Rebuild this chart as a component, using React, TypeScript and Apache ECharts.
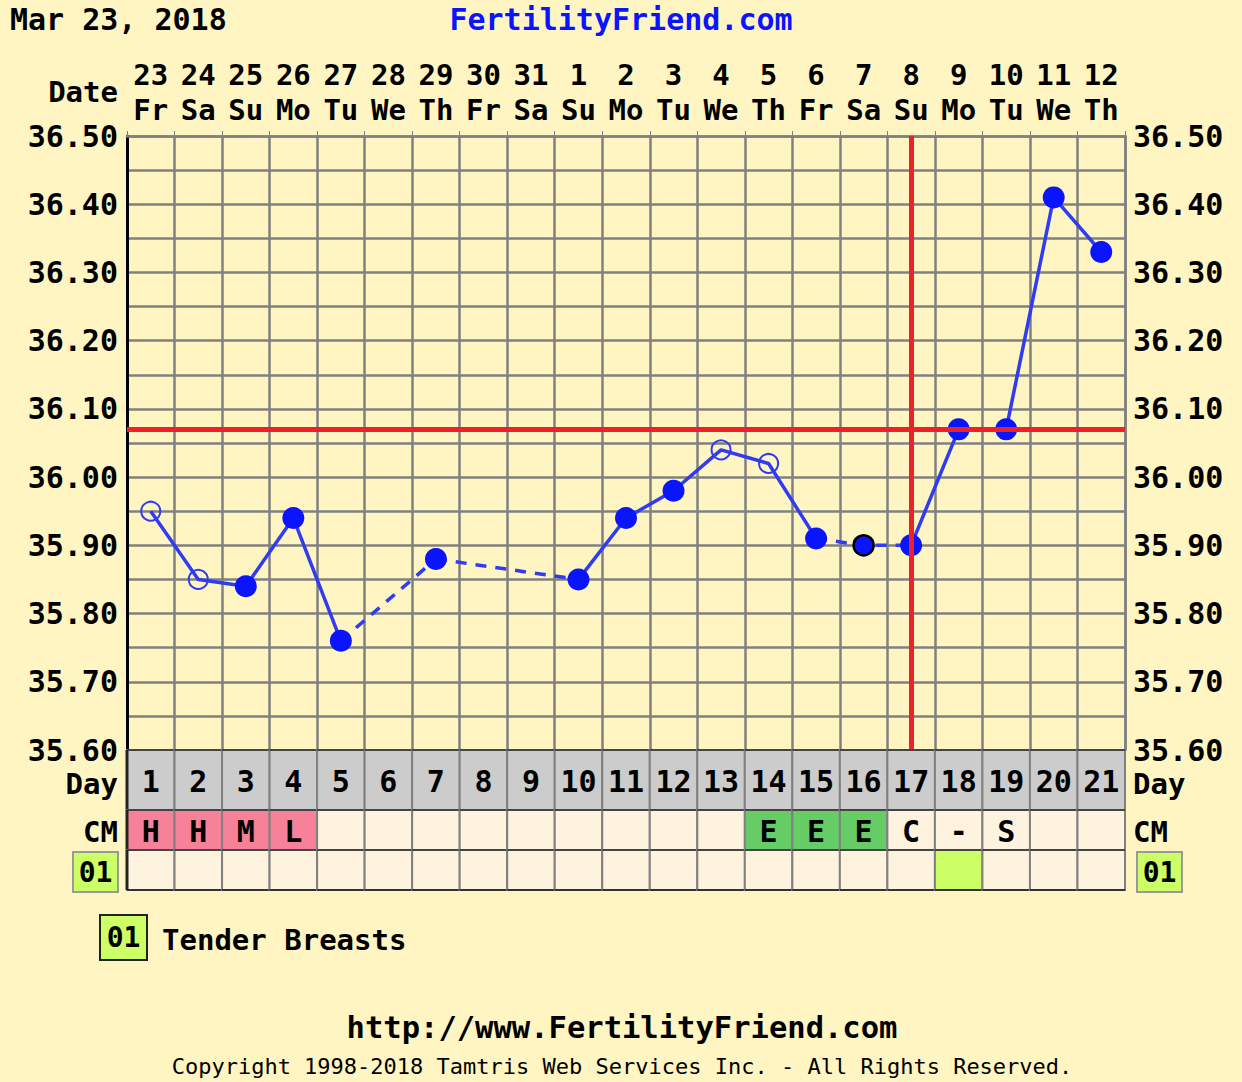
import React, { useEffect, useRef } from 'react';
import * as echarts from 'echarts';

// ---------- data ----------
const CHART_DATE = 'Mar 23, 2018';
const SITE_TITLE = 'FertilityFriend.com';
const SITE_URL = 'http://www.FertilityFriend.com';
const COPYRIGHT = 'Copyright 1998-2018 Tamtris Web Services Inc. - All Rights Reserved.';

const DATES = ['23', '24', '25', '26', '27', '28', '29', '30', '31', '1', '2', '3', '4', '5', '6', '7', '8', '9', '10', '11', '12'];
const WEEKDAYS = ['Fr', 'Sa', 'Su', 'Mo', 'Tu', 'We', 'Th', 'Fr', 'Sa', 'Su', 'Mo', 'Tu', 'We', 'Th', 'Fr', 'Sa', 'Su', 'Mo', 'Tu', 'We', 'Th'];
const CYCLE_DAYS = ['1', '2', '3', '4', '5', '6', '7', '8', '9', '10', '11', '12', '13', '14', '15', '16', '17', '18', '19', '20', '21'];

const TEMPS: (number | null)[] = [35.95, 35.85, 35.84, 35.94, 35.76, null, 35.88, null, null, 35.85, 35.94, 35.98, 36.04, 36.02, 35.91, 35.90, 35.90, 36.07, 36.07, 36.41, 36.33];
const MARKERS = ['open', 'open', 'filled', 'filled', 'filled', '', 'filled', '', '', 'filled', 'filled', 'filled', 'open', 'open', 'filled', 'outlined', 'filled', 'filled', 'filled', 'filled', 'filled'];
const SOLID_SEGMENTS = [[1, 5], [10, 15], [17, 21]];
const DASHED_SEGMENTS = [[5, 7], [7, 10], [15, 17]];
const COVERLINE = 36.07;
const OVULATION_DAY = 17;
const Y_MIN = 35.6;
const Y_MAX = 36.5;
const Y_STEP = 0.05;

const CM = ['H', 'H', 'M', 'L', '', '', '', '', '', '', '', '', '', 'E', 'E', 'E', 'C', '-', 'S', '', ''];
const SYMPTOMS = ['', '', '', '', '', '', '', '', '', '', '', '', '', '', '', '', '', '01', '', '', ''];
const SYMPTOM_CODE = '01';
const SYMPTOM_LABEL = 'Tender Breasts';

// ---------- styles ----------
const BG = '#fff5c2';
const CELL = '#fdf3df';
const DAY_ROW = '#cccccc';
const PINK = '#f78198';
const GREEN = '#66cc66';
const LIME = '#ccff66';
const BLUE_LINE = '#2f3cf2';
const BLUE_DOT = '#0a14ff';
const RED = '#ee2028';
const GRID = '#808080';
const FONT = '"DejaVu Sans Mono", monospace';

const W = 1242;
const H = 1082;
const PLOT_LEFT = 127;
const PLOT_RIGHT = 1125;
const PLOT_TOP = 136;
const PLOT_BOTTOM = 750;
const TABLE_BOTTOM = 890;
// row bands in table units (0..140) : Day, CM, symptom
const ROW_BANDS = [[80, 140], [40, 80], [0, 40]];

function cmColor(c: string) {
  if (c === 'H' || c === 'M' || c === 'L') return PINK;
  if (c === 'E') return GREEN;
  return CELL;
}

function fmtY(v: number) {
  const r = Math.round(v * 100);
  if (r % 10 !== 0) return '';
  return (r / 100).toFixed(2);
}

export default function App() {
  const ref = useRef<HTMLDivElement>(null);

  useEffect(() => {
    if (!ref.current) return;
    const chart = echarts.init(ref.current, undefined, { renderer: 'svg' });

    const pts = (a: number, b: number) => {
      const out: [number, number][] = [];
      for (let d = a; d <= b; d++) {
        const t = TEMPS[d - 1];
        if (t != null) out.push([d - 1, t]);
      }
      return out;
    };
    const markerPts = (kind: string) =>
      TEMPS.map((t, i) => (t != null && MARKERS[i] === kind ? [i, t] : null)).filter((p) => p) as [number, number][];

    const cells: { x: number; row: number; text: string; fill: string }[] = [];
    CYCLE_DAYS.forEach((d, i) => {
      cells.push({ x: i, row: 0, text: d, fill: DAY_ROW });
      cells.push({ x: i, row: 1, text: CM[i], fill: cmColor(CM[i]) });
      cells.push({ x: i, row: 2, text: '', fill: SYMPTOMS[i] ? LIME : CELL });
    });

    const lineSeries: any[] = [];
    SOLID_SEGMENTS.forEach(([a, b]) => {
      lineSeries.push({
        type: 'line', xAxisIndex: 0, yAxisIndex: 0, data: pts(a, b), symbol: 'none',
        lineStyle: { color: BLUE_LINE, width: 3.5 }, z: 3,
      });
    });
    DASHED_SEGMENTS.forEach(([a, b]) => {
      lineSeries.push({
        type: 'line', xAxisIndex: 0, yAxisIndex: 0, data: pts(a, b), symbol: 'none',
        lineStyle: { color: BLUE_LINE, width: 3.5, type: [11, 9] }, z: 3,
      });
    });

    const badge = (x: number, y: number, w: number, h: number, stroke: string, size: number) => [
      { type: 'rect', shape: { x, y, width: w, height: h }, style: { fill: LIME, stroke, lineWidth: 2 } },
      {
        type: 'text', x: x + w / 2, y: y + h / 2,
        style: { text: SYMPTOM_CODE, fill: '#000', font: `bold ${size}px ${FONT}`, textAlign: 'center', textVerticalAlign: 'middle', align: 'center', verticalAlign: 'middle' },
      },
    ];
    const txt = (text: string, x: number, y: number, size: number, align: string, color = '#000', weight = 'bold') => ({
      type: 'text', x, y,
      style: { text, fill: color, font: `${weight} ${size}px ${FONT}`, textAlign: align, textVerticalAlign: 'middle', align, verticalAlign: 'middle' },
    });

    const option: any = {
      animation: false,
      backgroundColor: BG,
      grid: [
        { left: PLOT_LEFT, right: W - PLOT_RIGHT, top: PLOT_TOP, height: PLOT_BOTTOM - PLOT_TOP, backgroundColor: BG },
        { left: PLOT_LEFT, right: W - PLOT_RIGHT, top: PLOT_BOTTOM, height: TABLE_BOTTOM - PLOT_BOTTOM },
      ],
      xAxis: [
        {
          type: 'category', gridIndex: 0, data: CYCLE_DAYS, boundaryGap: true, position: 'bottom',
          axisLine: { show: false }, axisTick: { show: false }, axisLabel: { show: false },
          splitLine: { show: true, interval: 0, lineStyle: { color: GRID, width: 2.5 } },
        },
        {
          type: 'category', gridIndex: 0, data: DATES, boundaryGap: true, position: 'top',
          axisLine: { show: true, lineStyle: { color: GRID, width: 2.5 } },
          axisTick: { show: true, interval: 0, length: 5, lineStyle: { color: GRID, width: 1 } },
          axisLabel: {
            interval: 0, margin: 9,
            formatter: (v: string, i: number) => `{d|${v}}\n{w|${WEEKDAYS[i]}}`,
            rich: {
              d: { fontSize: 29, fontWeight: 'bold', fontFamily: FONT, color: '#000', lineHeight: 35 },
              w: { fontSize: 29, fontWeight: 'bold', fontFamily: FONT, color: '#000', lineHeight: 35 },
            },
          },
        },
        { type: 'category', gridIndex: 1, data: CYCLE_DAYS, show: false },
      ],
      yAxis: [
        {
          type: 'value', gridIndex: 0, min: Y_MIN, max: Y_MAX, interval: Y_STEP, position: 'left',
          axisLine: { show: true, lineStyle: { color: '#000', width: 3 } }, axisTick: { show: false },
          axisLabel: { formatter: fmtY, margin: 9, fontSize: 30, fontWeight: 'bold', fontFamily: FONT, color: '#000' },
          splitLine: { show: true, lineStyle: { color: GRID, width: 2.5 } },
        },
        {
          type: 'value', gridIndex: 0, min: Y_MIN, max: Y_MAX, interval: Y_STEP, position: 'right',
          axisLine: { show: true, lineStyle: { color: GRID, width: 2.5 } }, axisTick: { show: false },
          axisLabel: { formatter: fmtY, margin: 8, fontSize: 30, fontWeight: 'bold', fontFamily: FONT, color: '#000' },
          splitLine: { show: false },
        },
        { type: 'value', gridIndex: 1, min: 0, max: 140, show: false },
      ],
      series: [
        ...lineSeries,
        {
          type: 'scatter', xAxisIndex: 0, yAxisIndex: 0, data: markerPts('filled'), symbol: 'circle', symbolSize: 22,
          itemStyle: { color: BLUE_DOT, opacity: 1 }, z: 4,
        },
        {
          type: 'scatter', xAxisIndex: 0, yAxisIndex: 0, data: markerPts('open'), symbol: 'circle', symbolSize: 19,
          itemStyle: { color: 'rgba(0,0,0,0)', borderColor: BLUE_LINE, borderWidth: 2, opacity: 1 }, z: 4,
        },
        {
          type: 'scatter', xAxisIndex: 0, yAxisIndex: 0, data: markerPts('outlined'), symbol: 'circle', symbolSize: 20,
          itemStyle: { color: BLUE_DOT, borderColor: '#000', borderWidth: 2.5, opacity: 1 }, z: 4,
        },
        {
          type: 'line', xAxisIndex: 0, yAxisIndex: 0, data: [], symbol: 'none', z: 6,
          markLine: {
            silent: true, symbol: 'none', label: { show: false },
            lineStyle: { color: RED, width: 5, type: 'solid' },
            data: [{ yAxis: COVERLINE }, { xAxis: OVULATION_DAY - 1 }],
          },
        },
        {
          type: 'custom', xAxisIndex: 2, yAxisIndex: 2, z: 5,
          data: cells.map((c) => [c.x, c.row]),
          renderItem: (params: any, api: any) => {
            const c = cells[params.dataIndex];
            const [lo, hi] = ROW_BANDS[c.row];
            const top = api.coord([c.x, hi]);
            const bot = api.coord([c.x, lo]);
            const w = api.size([1, 0])[0];
            const x0 = top[0] - w / 2;
            const children: any[] = [
              { type: 'rect', shape: { x: x0, y: top[1], width: w, height: bot[1] - top[1] }, style: { fill: c.fill, stroke: GRID, lineWidth: 2 } },
              { type: 'line', shape: { x1: x0, y1: bot[1], x2: x0 + w, y2: bot[1] }, style: { stroke: '#333', lineWidth: 2 } },
              { type: 'line', shape: { x1: x0, y1: top[1], x2: x0 + w, y2: top[1] }, style: { stroke: '#444', lineWidth: 2 } },
            ];
            if (c.x === 0) {
              children.push({ type: 'line', shape: { x1: x0, y1: top[1], x2: x0, y2: bot[1] }, style: { stroke: '#222', lineWidth: 3 } });
            }
            if (c.text) {
              children.push({
                type: 'text', x: top[0], y: (top[1] + bot[1]) / 2 + 1,
                style: {
                  text: c.text, fill: '#000', font: `bold 30px ${FONT}`,
                  textAlign: 'center', textVerticalAlign: 'middle', align: 'center', verticalAlign: 'middle',
                },
              });
            }
            return { type: 'group', children };
          },
        },
      ],
      graphic: [
        txt(CHART_DATE, 10, 19, 30, 'left'),
        txt(SITE_TITLE, 621, 19, 30, 'center', '#0a14ff'),
        txt('Date', 118, 92, 29, 'right'),
        txt('Day', 118, 784, 29, 'right'),
        txt('CM', 118, 832, 29, 'right'),
        ...badge(73, 852, 45, 40, '#999', 28),
        txt('Day', 1133, 784, 29, 'left'),
        txt('CM', 1133, 832, 29, 'left'),
        ...badge(1137, 852, 45, 40, '#999', 28),
        ...badge(100, 915, 47, 45, '#222', 28),
        txt(SYMPTOM_LABEL, 162, 940, 29, 'left'),
        txt(SITE_URL, 622, 1027, 30.5, 'center'),
        txt(COPYRIGHT, 622, 1066, 22, 'center', '#000', 'normal'),
      ],
    };

    chart.setOption(option);
    return () => chart.dispose();
  }, []);

  return <div ref={ref} style={{ position: 'absolute', left: 0, top: 0, width: W, height: H }} />;
}
